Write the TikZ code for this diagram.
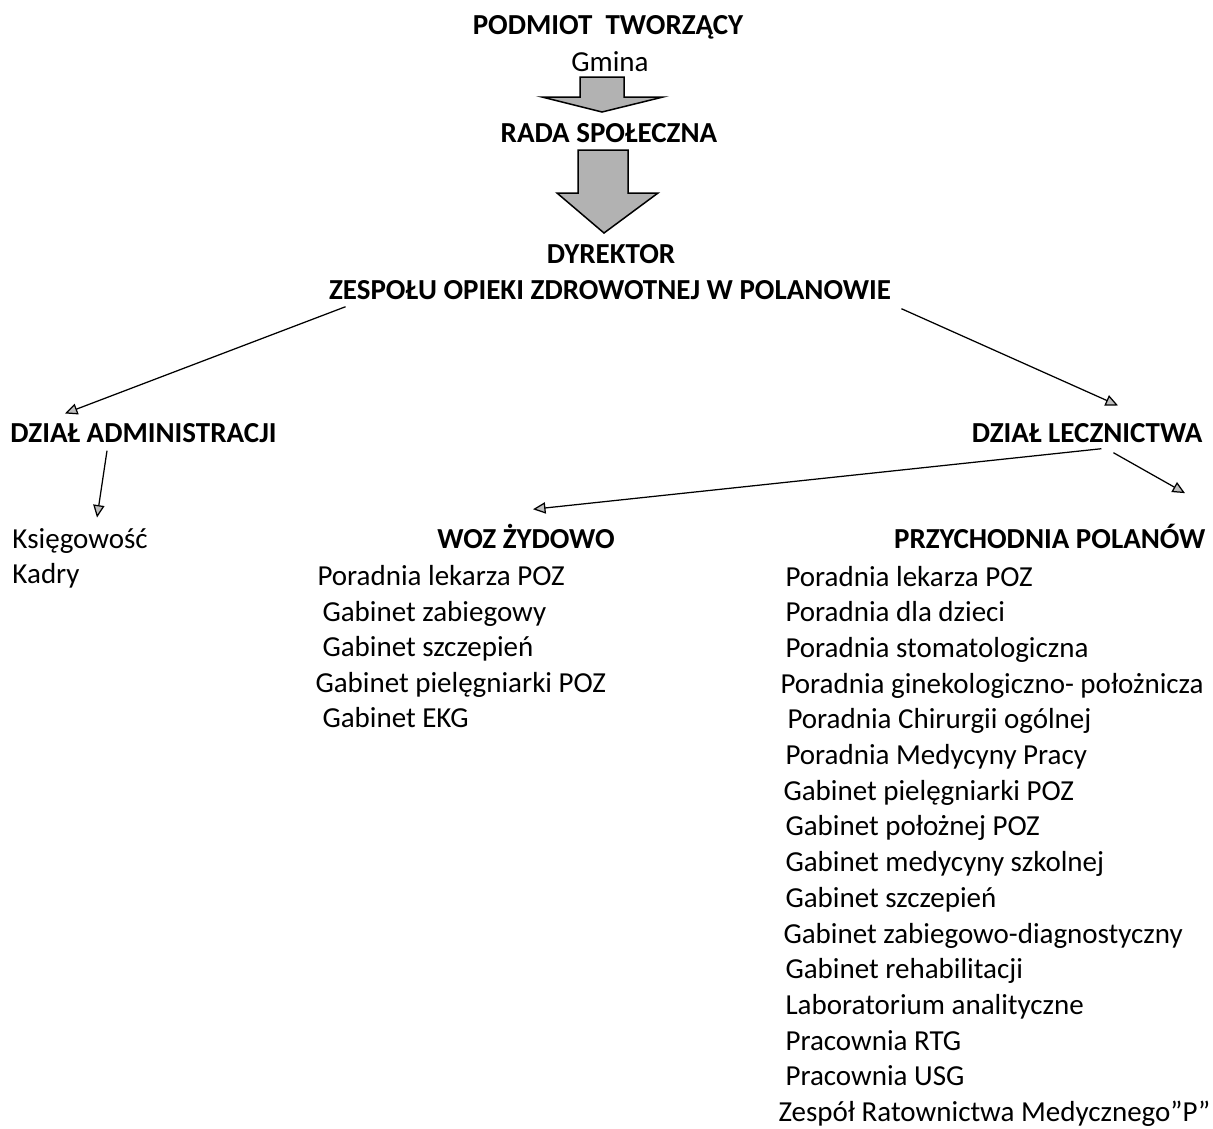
\documentclass[tikz,border=0pt]{standalone}
\usepackage{fontspec}
\setmainfont{Carlito}
\usetikzlibrary{arrows.meta}
\begin{document}
\begin{tikzpicture}[x=0.4pt, y=-0.4pt, font=\fontsize{11.6}{14}\selectfont,
  >={Triangle[length=5pt, width=4.5pt, fill=gray!50]},
  txt/.style={inner sep=0pt, anchor=base west},
  hd/.style={inner sep=0pt, anchor=base, font=\fontsize{11.6}{14}\selectfont\bfseries},
  blk/.style={draw, fill=gray!60, line width=0.6pt}]
\useasboundingbox (0,0) rectangle (1213,1128);
\node[hd] (podmiot) at (608,34) {PODMIOT\ \ TWORZĄCY};
\node[inner sep=0pt, anchor=base] (gmina) at (610,71) {Gmina};
\node[hd] (rada) at (609,142) {RADA SPOŁECZNA};
\node[hd] (dyr) at (611,263) {DYREKTOR};
\node[hd] (zoz) at (610,299) {ZESPOŁU OPIEKI ZDROWOTNEJ W POLANOWIE};
\filldraw[blk] (580,77)--(624,77)--(624,97)--(663,97)--(602,112)--(542,97)--(580,97)--cycle;
\filldraw[blk] (578,150)--(628,150)--(628,193)--(658,193)--(604,233)--(557,193)--(578,193)--cycle;
\node[hd, anchor=base west] (admin) at (10,442) {DZIAŁ ADMINISTRACJI};
\node[hd, anchor=base east] (lecz) at (1203,442) {DZIAŁ LECZNICTWA};
\node[txt] (ksieg) at (12,548) {Księgowość};
\node[txt] (kadry) at (12,583) {Kadry};
\node[hd] (woz) at (526,548) {WOZ ŻYDOWO};
\node[hd, anchor=base east] (przych) at (1206,548) {PRZYCHODNIA POLANÓW};
\foreach \i/\x/\t in {1/317/Poradnia lekarza POZ, 2/322/Gabinet zabiegowy,
  3/322/Gabinet szczepień, 4/315/Gabinet pielęgniarki POZ, 5/322/Gabinet EKG}
  \node[txt] (w\i) at (\x,550.5+35.4*\i) {\t};
\foreach \i/\x/\t in {1/785/Poradnia lekarza POZ, 2/785/Poradnia dla dzieci,
  3/785/Poradnia stomatologiczna, 4/780/Poradnia ginekologiczno- położnicza,
  5/787/Poradnia Chirurgii ogólnej, 6/785/Poradnia Medycyny Pracy,
  7/783/Gabinet pielęgniarki POZ, 8/785/Gabinet położnej POZ,
  9/785/Gabinet medycyny szkolnej, 10/785/Gabinet szczepień,
  11/783/Gabinet zabiegowo-diagnostyczny, 12/785/Gabinet rehabilitacji,
  13/785/Laboratorium analityczne, 14/785/Pracownia RTG,
  15/785/Pracownia USG, 16/778/Zespół Ratownictwa Medycznego”P”}
  \node[txt] (p\i) at (\x,550.3+35.7*\i) {\t};
\draw[->, line width=0.5pt] ([shift={(17,7)}]zoz.south west) -- ([shift={(55,-9)}]admin.north west);
\draw[->, line width=0.5pt] ([shift={(10,9)}]zoz.south east) -- ([shift={(-85,-17)}]lecz.north east);
\draw[->, line width=0.5pt] ([shift={(97,8)}]admin.south west) -- ([shift={(85,-10)}]ksieg.north west);
\draw[->, line width=0.5pt] ([shift={(130,6)}]lecz.south west) -- ([shift={(7,-14)}]woz.north);
\draw[->, line width=0.5pt] ([shift={(142,10)}]lecz.south west) -- ([shift={(-21,-30)}]przych.north east);
\end{tikzpicture}
\end{document}
